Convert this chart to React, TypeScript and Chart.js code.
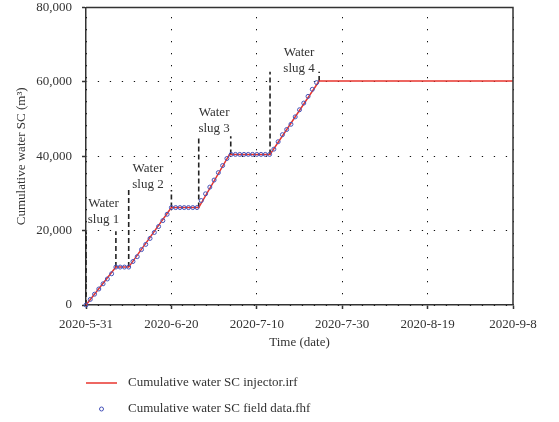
import React, { useEffect, useRef } from "react";
import { Chart, registerables } from "chart.js";
Chart.register(...registerables);

const xTickDays = [0, 20, 40, 60, 80, 100];
const xTickLabels = ["2020-5-31", "2020-6-20", "2020-7-10", "2020-7-30", "2020-8-19", "2020-9-8"];
const yTickValues = [0, 20000, 40000, 60000, 80000];

const fieldDays = [
  0, 1, 2, 3, 4, 5, 6, 7, 8, 9, 10, 11, 12, 13, 14, 15, 16, 17, 18, 19, 20,
  21, 22, 23, 24, 25, 26, 27, 28, 29, 30, 31, 32, 33, 34, 35, 36, 37, 38, 39,
  40, 41, 42, 43, 44, 45, 46, 47, 48, 49, 50, 51, 52, 53, 54,
];
const fieldValues = [
  0, 1500, 2900, 4300, 5700, 7000, 8400, 10200, 10200, 10200, 10200,
  11700, 13000, 14900, 16300, 17900, 19500, 21100, 22700, 24400, 26200,
  26200, 26200, 26200, 26200, 26200, 26200,
  28100, 29900, 31700, 33600, 35600, 37500, 39400,
  40500, 40500, 40500, 40500, 40500, 40500, 40500, 40500, 40500, 40500,
  41900, 43900, 45800, 47200, 48600, 50600, 52500, 54300, 56100, 58000, 59800,
];

const injectorDays = [0, 7, 10, 20, 26.4, 33.6, 43.1, 54.6, 100];
const injectorValues = [0, 10200, 10200, 26200, 26200, 40500, 40500, 60240, 60240];

const slugStartDays = [0, 10, 26.4, 43.1];
const slugStartBottoms = [0, 10200, 26200, 40500];
const slugEndDays = [7, 20, 33.9, 54.6];
const slugEndBottoms = [10200, 26200, 40500, 60240];
const slugTops = [19800, 30900, 45400, 62700];
const slugNames = ["slug 1", "slug 2", "slug 3", "slug 4"];
const slugLabelDays = [4.1, 14.5, 30, 49.9];
const slugLabelValues = [27200, 36600, 51700, 67800];

const legendLabels = ["Cumulative water SC injector.irf", "Cumulative water SC field data.fhf"];
const xTitle = "Time (date)";
const yTitle = "Cumulative water SC (m\u00b3)";

const FONT = '"Liberation Serif", "DejaVu Serif", serif';
const TEXT = "#333";
const RED = "#e8352e";
const BLUE = "#4552b8";

const zeroPad = (s: any) => {
  s.paddingTop = 0;
  s.paddingBottom = 0;
  s.paddingLeft = 0;
  s.paddingRight = 0;
};

export default function App() {
  const ref = useRef<HTMLCanvasElement | null>(null);
  useEffect(() => {
    if (!ref.current) return;
    const dashed: any[] = [];
    for (let i = 0; i < slugStartDays.length; i++) {
      dashed.push({
        data: [
          { x: slugStartDays[i], y: slugStartBottoms[i] },
          { x: slugStartDays[i], y: slugTops[i] },
        ],
      });
      dashed.push({
        data: [
          { x: slugEndDays[i], y: slugEndBottoms[i] },
          { x: slugEndDays[i], y: slugTops[i] },
        ],
      });
    }
    const dashedSets = dashed.map((d) => ({
      ...d,
      borderColor: "#222",
      borderWidth: 1.6,
      borderDash: [5, 3],
      pointRadius: 0,
      showLine: true,
      clip: false,
    }));

    const overlay = {
      id: "overlay",
      afterDraw(chart: any) {
        const { ctx, chartArea, scales } = chart;
        const { left, right, top, bottom } = chartArea;
        ctx.save();
        ctx.strokeStyle = "#333";
        ctx.lineWidth = 1.5;
        ctx.beginPath();
        ctx.moveTo(left, top);
        ctx.lineTo(right, top);
        ctx.lineTo(right, bottom);
        ctx.stroke();

        ctx.font = "13px " + FONT;
        ctx.fillStyle = TEXT;
        ctx.textAlign = "center";
        ctx.textBaseline = "middle";
        for (let i = 0; i < slugNames.length; i++) {
          const x = scales.x.getPixelForValue(slugLabelDays[i]);
          const y = scales.y.getPixelForValue(slugLabelValues[i]);
          ctx.fillText("Water", x, y);
          ctx.fillText(slugNames[i], x, y + 16);
        }
        ctx.fillText(xTitle, (left + right) / 2, 343);
        ctx.save();
        ctx.translate(22, (top + bottom) / 2);
        ctx.rotate(-Math.PI / 2);
        ctx.fillText(yTitle, 0, 0);
        ctx.restore();

        ctx.textAlign = "left";
        ctx.strokeStyle = RED;
        ctx.lineWidth = 1.5;
        ctx.beginPath();
        ctx.moveTo(left, 383);
        ctx.lineTo(left + 31, 383);
        ctx.stroke();
        ctx.fillText(legendLabels[0], 128, 383);
        ctx.strokeStyle = BLUE;
        ctx.lineWidth = 1;
        ctx.beginPath();
        ctx.arc(left + 15.5, 409, 2, 0, Math.PI * 2);
        ctx.stroke();
        ctx.fillText(legendLabels[1], 128, 409);
        ctx.restore();
      },
    };

    const chart = new Chart(ref.current, {
      type: "scatter",
      data: {
        datasets: [
          {
            label: legendLabels[1],
            data: fieldDays.map((d, i) => ({ x: d, y: fieldValues[i] })),
            borderColor: BLUE,
            backgroundColor: "rgba(0,0,0,0)",
            borderWidth: 1,
            pointRadius: 2,
            showLine: false,
            clip: false,
          },
          {
            label: legendLabels[0],
            data: injectorDays.map((d, i) => ({ x: d, y: injectorValues[i] })),
            borderColor: RED,
            borderWidth: 1.5,
            pointRadius: 0,
            showLine: true,
            clip: false,
          },
          ...dashedSets,
        ] as any,
      },
      options: {
        responsive: false,
        animation: false,
        layout: { padding: { left: 0, top: 7.5, right: 46, bottom: 0 } },
        plugins: { legend: { display: false }, tooltip: { enabled: false } },
        scales: {
          x: {
            type: "linear",
            min: 0,
            max: 100,
            afterBuildTicks: (s: any) => {
              s.ticks = xTickDays.map((v) => ({ value: v }));
            },
            afterFit: (s: any) => {
              s.height = 117;
              zeroPad(s);
            },
            ticks: {
              autoSkip: false,
              maxRotation: 0,
              padding: 8,
              color: TEXT,
              font: { family: FONT, size: 13 },
              callback: (v: any) => xTickLabels[xTickDays.indexOf(Number(v))],
            },
            grid: {
              color: "#111",
              lineWidth: 1,
              tickLength: 4,
              tickColor: "#333",
              tickWidth: 1.5,
              tickBorderDash: [],
            },
            border: { color: "#333", width: 1.5, dash: [1.3, 10.7], dashOffset: 2.5 },
          },
          y: {
            type: "linear",
            min: 0,
            max: 80000,
            afterBuildTicks: (s: any) => {
              s.ticks = yTickValues.map((v) => ({ value: v }));
            },
            afterFit: (s: any) => {
              s.width = 86;
              zeroPad(s);
            },
            ticks: {
              padding: 10,
              color: TEXT,
              font: { family: FONT, size: 13 },
              callback: (v: any) => Number(v).toLocaleString("en-US"),
            },
            grid: {
              color: "#111",
              lineWidth: 1,
              tickLength: 4,
              tickColor: "#333",
              tickWidth: 1.5,
              tickBorderDash: [],
            },
            border: { color: "#333", width: 1.5, dash: [1.3, 10.7], dashOffset: 0.7 },
          },
        },
      },
      plugins: [overlay],
    });
    return () => chart.destroy();
  }, []);
  return (
    <div style={{ position: "absolute", left: 0, top: 0, width: 559, height: 422, background: "#fff" }}>
      <canvas ref={ref} width={559} height={422} style={{ width: 559, height: 422 }} />
    </div>
  );
}
